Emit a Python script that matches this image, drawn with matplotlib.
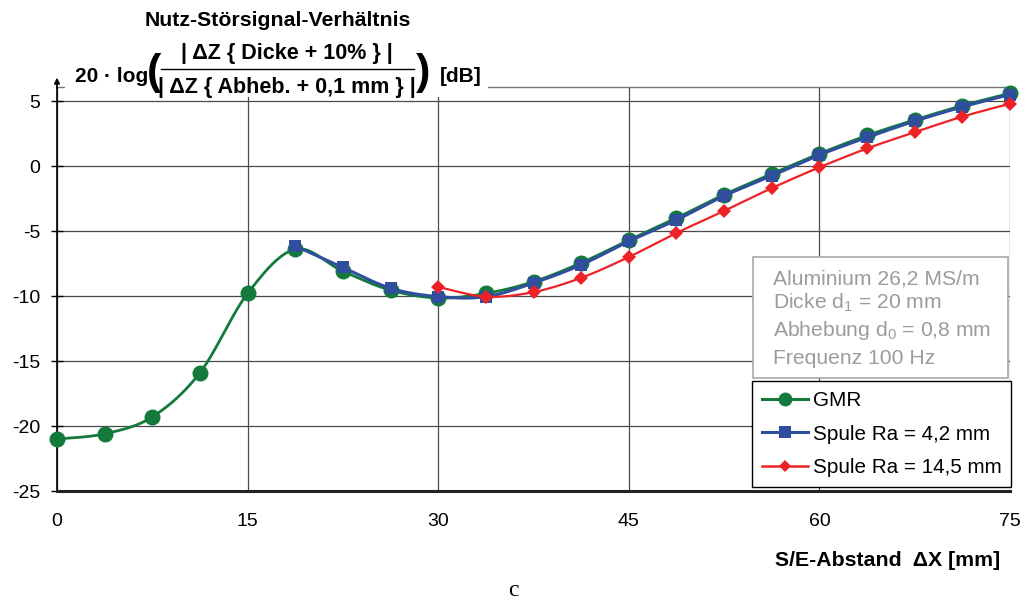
import numpy as np
import matplotlib
matplotlib.use("Agg")
import matplotlib.pyplot as plt
from matplotlib.lines import Line2D
from matplotlib.patches import Rectangle

plt.rcParams['font.family'] = ['Liberation Sans', 'DejaVu Sans']
plt.rcParams['axes.unicode_minus'] = False
plt.rcParams['mathtext.fontset'] = 'custom'
plt.rcParams['mathtext.rm'] = 'Liberation Sans'

# ---- data -------------------------------------------------------------
distance_gmr = [0, 3.75, 7.5, 11.25, 15, 18.75, 22.5, 26.25, 30, 33.75, 37.5,
                41.25, 45, 48.75, 52.5, 56.25, 60, 63.75, 67.5, 71.25, 75]
snr_gmr = [-21.0, -20.6, -19.3, -15.9, -9.8, -6.4, -8.1, -9.55, -10.15, -9.8,
           -8.9, -7.45, -5.7, -4.0, -2.2, -0.6, 0.95, 2.35, 3.55, 4.65, 5.6]

distance_coil_42 = [18.75, 22.5, 26.25, 30, 33.75, 37.5, 41.25, 45, 48.75,
                    52.5, 56.25, 60, 63.75, 67.5, 71.25, 75]
snr_coil_42 = [-6.15, -7.8, -9.4, -10.05, -10.05, -9.0, -7.6, -5.8, -4.15,
               -2.3, -0.75, 0.85, 2.2, 3.45, 4.55, 5.5]

distance_coil_145 = [30, 33.75, 37.5, 41.25, 45, 48.75, 52.5, 56.25, 60,
                     63.75, 67.5, 71.25, 75]
snr_coil_145 = [-9.3, -10.05, -9.7, -8.6, -7.0, -5.15, -3.45, -1.7, -0.1,
                1.35, 2.6, 3.8, 4.8]

x_ticks = [0, 15, 30, 45, 60, 75]
y_ticks = [5, 0, -5, -10, -15, -20, -25]
series_labels = ['GMR', 'Spule Ra = 4,2 mm', 'Spule Ra = 14,5 mm']
info_lines = ['Aluminium 26,2 MS/m',
              r'Dicke d$_\mathregular{1}$ = 20 mm',
              r'Abhebung d$_\mathregular{0}$ = 0,8 mm',
              'Frequenz 100 Hz']

GREEN = '#137a3b'
BLUE = '#2f4f9e'
RED = '#ee2226'


def smooth(x, y, n=24):
    """Cubic Bezier smoothing through all points (Catmull-Rom style)."""
    p = np.column_stack([x, y]).astype(float)
    out = [p[0]]
    t = np.linspace(0, 1, n)[1:, None]
    for i in range(len(p) - 1):
        p0 = p[i - 1] if i > 0 else p[i]
        p1, p2 = p[i], p[i + 1]
        p3 = p[i + 2] if i + 2 < len(p) else p[i + 1]
        c1 = p1 + (p2 - p0) / 6.0
        c2 = p2 - (p3 - p1) / 6.0
        seg = ((1 - t) ** 3) * p1 + 3 * ((1 - t) ** 2) * t * c1 \
            + 3 * (1 - t) * t ** 2 * c2 + t ** 3 * p2
        out.extend(seg)
    out = np.array(out)
    return out[:, 0], out[:, 1]


W, H = 1026, 604


def fx(px):
    return px / W


def fy(py):
    return 1 - py / H


fig = plt.figure(figsize=(W / 100, H / 100), dpi=100)
ax = fig.add_axes([fx(57), fy(491), (1010 - 57) / W, (491 - 87) / H])
ax.set_xlim(0, 75)
ax.set_ylim(-25, 6.08)

ax.set_xticks(x_ticks)
ax.set_xticklabels([str(v) for v in x_ticks])
ax.set_yticks(y_ticks)
ax.set_yticklabels([str(v) for v in y_ticks])
ax.grid(True, color='#4a4a4a', lw=0.9)
ax.set_axisbelow(True)
ax.tick_params(axis='y', direction='inout', length=8, width=1, pad=8,
               labelsize=14)
ax.tick_params(axis='x', direction='out', length=0, pad=16, labelsize=14)

ax.spines['right'].set_visible(False)
ax.spines['top'].set_color('#777777')
ax.spines['top'].set_linewidth(1.0)
ax.spines['left'].set_linewidth(1.2)
ax.spines['bottom'].set_linewidth(2.2)
ax.spines['bottom'].set_color('#222222')

# curves
for xs, ys, col, lw, mk, ms, z in [
        (distance_gmr, snr_gmr, GREEN, 2.0, 'o', 11.5, 3),
        (distance_coil_42, snr_coil_42, BLUE, 2.2, 's', 8.5, 4),
        (distance_coil_145, snr_coil_145, RED, 1.6, 'D', 7.5, 5)]:
    sx, sy = smooth(xs, ys)
    ax.plot(sx, sy, color=col, lw=lw, zorder=z, clip_on=False)
    ax.plot(xs, ys, ls='none', marker=mk, ms=ms, color=col,
            markeredgewidth=0, zorder=z, clip_on=False)

# arrow on the value axis
ax.annotate('', xy=(0, 6.8), xytext=(0, 6.0),
            arrowprops=dict(arrowstyle='-|>', color='black', lw=1.2,
                            mutation_scale=8, shrinkA=0, shrinkB=0),
            annotation_clip=False)

# blank area behind the axis title
fig.add_artist(Rectangle((fx(65), fy(97)), (488 - 65) / W, 97 / H,
                         transform=fig.transFigure, facecolor='white',
                         edgecolor='none', zorder=5))

tkw = dict(fontweight='bold', zorder=6, va='center')
fig.text(fx(278), fy(20), 'Nutz-Störsignal-Verhältnis', ha='center',
         fontsize=15.3, **tkw)
fig.text(fx(75), fy(76), '20 · log', ha='left', fontsize=15, **tkw)
fig.text(fx(154), fy(73), '(', ha='center', fontsize=31, **tkw)
fig.text(fx(287), fy(53), '| ΔZ { Dicke + 10% } |', ha='center',
         fontsize=15.5, **tkw)
fig.add_artist(Line2D([fx(161), fx(414)], [fy(69), fy(69)], color='black',
                      lw=1.0, transform=fig.transFigure, zorder=6))
fig.text(fx(287), fy(87), '| ΔZ { Abheb. + 0,1 mm } |', ha='center',
         fontsize=15.5, **tkw)
fig.text(fx(423), fy(73), ')', ha='center', fontsize=31, **tkw)
fig.text(fx(440), fy(76), '[dB]', ha='left', fontsize=15, **tkw)

fig.text(fx(1000), fy(561), 'S/E-Abstand  ΔX [mm]', ha='right',
         fontsize=15.3, **tkw)
fig.text(fx(513), fy(590), 'c', ha='center', va='center', fontsize=17,
         family=['Liberation Serif', 'DejaVu Serif'])

# parameter box
fig.add_artist(Rectangle((fx(753), fy(378)), (1008 - 753) / W, (378 - 257) / H,
                         transform=fig.transFigure, facecolor='white',
                         edgecolor='#a8a8a8', lw=1.2, zorder=5))
for i, line in enumerate(info_lines):
    fig.text(fx(773), fy([279, 303, 331, 359][i]), line, ha='left',
             va='center', fontsize=15.2, color='#9c9c9c', zorder=6)

# legend
handles = [
    Line2D([], [], color=GREEN, lw=2.2, marker='o', ms=10, markeredgewidth=0),
    Line2D([], [], color=BLUE, lw=2.2, marker='s', ms=8, markeredgewidth=0),
    Line2D([], [], color=RED, lw=1.8, marker='D', ms=6.5, markeredgewidth=0),
]
leg = ax.legend(handles, series_labels, loc='upper left',
                bbox_to_anchor=(fx(752), fy(381)),
                bbox_transform=fig.transFigure, fontsize=14.9,
                frameon=True, fancybox=False, edgecolor='black',
                framealpha=1, borderpad=0.48, handlelength=2.25,
                handletextpad=0.2, labelspacing=0.71, borderaxespad=0)
leg.get_frame().set_linewidth(1.0)
leg.set_zorder(7)

fig.savefig('out.png', dpi=100)
